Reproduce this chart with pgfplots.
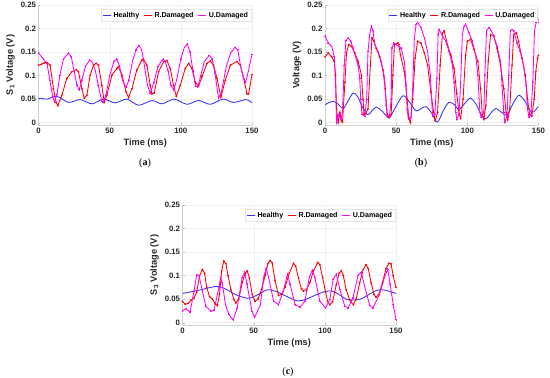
\documentclass[border=0pt]{standalone}
\usepackage{pgfplots}
\pgfplotsset{compat=1.18}
\usepackage{fontspec}
\setmainfont{Liberation Sans}
\newfontfamily\capfont{Liberation Serif}
\definecolor{hblue}{RGB}{50,50,255}
\definecolor{rred}{RGB}{255,0,0}
\definecolor{umag}{RGB}{255,0,255}
\definecolor{tickc}{RGB}{38,38,38}
\pgfplotsset{
 myax/.style={
  scale only axis, width=213.5pt, height=120pt,
  xmin=0, xmax=150, ymin=-0.005, ymax=0.25,
  xtick={0,50,100,150}, ytick={0,0.05,0.1,0.15,0.2,0.25},
  yticklabels={0,0.05,0.1,0.15,0.2,0.25},
  axis x line*=bottom, axis y line*=left,
  axis line style={gray!35, line width=0.4pt},
  grid=major, grid style={gray!12, line width=0.3pt},
  tick style={gray!50}, tick align=inside, major tick length=2pt,
  ticklabel style={font=\bfseries\fontsize{7.8}{8.5}\selectfont, text=tickc},
  yticklabel style={xshift=1pt},
  /pgf/number format/assume math mode=true,
  label style={font=\bfseries\fontsize{9.2}{10}\selectfont, text=tickc},
  ylabel style={yshift=-1pt},
  xlabel style={yshift=2pt},
  xlabel={Time (ms)},
  legend style={at={(0.995,0.965)}, anchor=north east, legend columns=3,
    font=\bfseries\fontsize{7.1}{7.5}\selectfont, draw=gray!20, inner sep=0.8pt,
    /tikz/every even column/.append style={column sep=2pt}},
  legend image code/.code={\draw[#1, line width=1.3pt, mark=none] (0pt,0pt) -- (8pt,0pt);},
 },
 hl/.style={hblue, line width=0.85pt, smooth},
 rd/.style={rred, line width=0.85pt, mark=*, mark size=0.4pt},
 ud/.style={umag, line width=0.85pt, mark=+, mark size=0.8pt},
}
\begin{document}
\begin{tikzpicture}
\path[use as bounding box] (0,0) rectangle (550pt,378pt);
% ---------------- (a)
\begin{axis}[myax, at={(38.5pt,253pt)}, anchor=south west, ylabel={S\textsubscript{1} Voltage (V)}]
\addplot[hl] coordinates {(0,0.051)(1.2,0.052)(6,0.05)(12.9,0.056)(21.1,0.043)(29.3,0.049)(37.5,0.040)(45.7,0.050)(53.9,0.042)(62.1,0.050)(70.3,0.037)(79.7,0.047)(86.7,0.040)(95.4,0.050)(104.3,0.039)(112.5,0.047)(120.7,0.039)(129.6,0.050)(137.1,0.043)(145.8,0.049)(150,0.042)};
\addplot[rd] coordinates {(0,0.122)(2,0.124)(4,0.127)(5.9,0.128)(8.2,0.122)(10.5,0.072)(12.4,0.043)(13.6,0.036)(16.4,0.058)(19.9,0.094)(23.4,0.108)(26.5,0.113)(28.1,0.108)(30.5,0.072)(32.1,0.052)(34.0,0.058)(36.3,0.101)(38.7,0.122)(40.5,0.126)(42.2,0.122)(44.5,0.079)(46.2,0.043)(48.0,0.058)(51.6,0.101)(55.1,0.115)(56.2,0.119)(58.6,0.101)(61.6,0.065)(63.3,0.053)(65.6,0.072)(69.1,0.112)(72.7,0.133)(73.8,0.135)(76.2,0.122)(78.5,0.079)(79.7,0.061)(81.3,0.063)(84.4,0.108)(87.9,0.130)(90.2,0.132)(92.6,0.115)(94.9,0.079)(96.8,0.056)(99.6,0.079)(103.1,0.115)(105.5,0.126)(107.8,0.115)(110.1,0.086)(112.5,0.078)(114.8,0.097)(118.4,0.126)(120.7,0.131)(123.0,0.122)(125.4,0.094)(128.2,0.054)(131.2,0.090)(134.8,0.122)(139.4,0.130)(141.8,0.122)(144.1,0.094)(146.5,0.061)(147.6,0.061)(150,0.102)};
\addplot[ud] coordinates {(0,0.148)(3.5,0.135)(6,0.125)(8,0.09)(10,0.055)(11.2,0.044)(13,0.06)(15,0.1)(17.5,0.135)(21,0.148)(23,0.14)(25,0.11)(27,0.08)(28.6,0.07)(30.5,0.09)(33,0.12)(36,0.133)(38,0.128)(40,0.11)(42,0.08)(44.5,0.045)(45.5,0.043)(47.5,0.06)(50,0.1)(53,0.13)(55,0.135)(57,0.12)(59,0.09)(61.6,0.075)(63.5,0.09)(66,0.13)(68.5,0.155)(70.5,0.164)(72.5,0.155)(74.5,0.12)(76.5,0.08)(78.5,0.063)(81,0.085)(84,0.12)(87.5,0.135)(89,0.13)(91,0.11)(93,0.08)(95,0.07)(97,0.09)(100,0.135)(102.5,0.16)(104.5,0.167)(106.5,0.15)(108.5,0.11)(110.5,0.078)(112,0.076)(114,0.1)(116.5,0.13)(120,0.143)(122,0.135)(124,0.105)(126.5,0.052)(128.5,0.065)(132,0.12)(135,0.148)(138,0.16)(140,0.155)(142,0.12)(144,0.095)(145.5,0.085)(147.5,0.11)(150,0.145)};
\legend{Healthy,R.Damaged,U.Damaged}
\end{axis}
% ---------------- (b)
\begin{axis}[myax, at={(325pt,253pt)}, anchor=south west, ylabel={Voltage (V)}]
\addplot[hl] coordinates {(0,0.038)(3,0.043)(6,0.045)(9,0.040)(12.8,0.030)(16,0.045)(19.8,0.063)(23,0.055)(26,0.035)(30,0.017)(33,0.025)(36,0.033)(40,0.025)(45,0.010)(49,0.030)(54.7,0.057)(59,0.045)(64,0.025)(67.5,0.030)(71,0.034)(75,0.020)(79,0.001)(83,0.025)(87,0.043)(91,0.038)(94,0.028)(98,0.040)(102,0.052)(106,0.040)(110,0.015)(113,0.008)(117,0.022)(120,0.030)(124,0.022)(128,0.017)(132,0.040)(136,0.058)(140,0.048)(145,0.022)(148,0.027)(150,0.035)};
\addplot[rd] coordinates {(0,0.140)(2.3,0.148)(4.7,0.140)(6.5,0.130)(7.4,0.101)(8.1,0.029)(9.3,0.0)(10.5,0.022)(11.6,0.004)(12.3,0.001)(14.0,0.086)(15.1,0.148)(16.7,0.166)(18.6,0.162)(20.9,0.148)(23.3,0.130)(25.6,0.101)(26.7,0.050)(27.4,0.018)(28.4,0.018)(30.2,0.029)(31.9,0.122)(33.0,0.180)(34.4,0.173)(36.0,0.158)(38.4,0.140)(40.7,0.112)(42.3,0.072)(43.7,0.018)(45.3,0.011)(46.5,0.018)(47.7,0.101)(48.8,0.166)(51.2,0.169)(51.9,0.166)(53.0,0.144)(55.8,0.108)(57.7,0.050)(58.8,0.011)(60.0,0.0)(61.6,0.050)(63.3,0.137)(65.1,0.173)(67.4,0.169)(69.8,0.148)(72.1,0.122)(74.4,0.065)(76.3,0.022)(77.4,0.004)(79.1,0.022)(80.9,0.122)(82.6,0.191)(83.7,0.195)(86.0,0.166)(88.4,0.144)(90.7,0.115)(92.6,0.061)(94.2,0.018)(95.3,0.009)(97.0,0.050)(98.8,0.144)(100.0,0.173)(102.3,0.177)(104.7,0.155)(107.4,0.130)(109.3,0.072)(110.5,0.018)(111.6,0.007)(113.0,0.036)(114.7,0.130)(116.3,0.187)(118.6,0.184)(120.9,0.158)(123.3,0.122)(125.6,0.072)(127.2,0.022)(128.4,0.006)(129.8,0.029)(131.4,0.122)(132.6,0.187)(134.4,0.191)(136.0,0.173)(138.4,0.137)(140.7,0.101)(142.3,0.050)(143.7,0.018)(145.3,0.014)(147.0,0.050)(148.1,0.108)(149.3,0.137)(150,0.143)};
\addplot[ud] coordinates {(0,0.184)(2.3,0.169)(4.7,0.162)(6.5,0.140)(7.4,0.086)(8.1,0.0)(9.8,0.018)(11.2,0.007)(12.3,0.022)(13.5,0.122)(14.7,0.174)(16.3,0.180)(18.1,0.173)(19.8,0.158)(22.1,0.133)(23.3,0.122)(24.4,0.094)(25.1,0.050)(26.0,0.018)(27.9,0.014)(29.3,0.050)(30.2,0.151)(31.4,0.187)(32.6,0.205)(33.7,0.195)(34.9,0.166)(37.2,0.151)(39.5,0.130)(41.9,0.094)(43.0,0.036)(43.7,0.014)(45.3,0.014)(46.5,0.050)(47.0,0.158)(48.4,0.169)(50.0,0.166)(51.6,0.162)(53.5,0.158)(55.8,0.130)(57.0,0.079)(57.7,0.029)(58.6,0.007)(60.5,0.011)(61.6,0.072)(62.8,0.180)(64.0,0.209)(65.1,0.213)(67.4,0.202)(69.8,0.180)(72.1,0.151)(74.0,0.101)(74.9,0.050)(75.6,0.014)(77.2,0.018)(78.6,0.094)(79.5,0.187)(80.2,0.198)(82.6,0.184)(84.9,0.173)(87.2,0.151)(89.5,0.122)(90.7,0.086)(91.9,0.022)(92.6,0.007)(94.2,0.018)(95.3,0.086)(96.5,0.187)(97.7,0.205)(98.8,0.209)(101.2,0.191)(103.5,0.173)(105.8,0.144)(107.4,0.101)(108.8,0.022)(109.8,0.011)(111.6,0.022)(112.3,0.101)(113.5,0.195)(115.1,0.202)(116.3,0.198)(118.6,0.184)(120.9,0.162)(123.3,0.130)(124.4,0.079)(125.6,0.022)(126.3,0.001)(127.9,0.014)(129.1,0.101)(130.2,0.195)(131.4,0.198)(132.6,0.195)(134.9,0.169)(137.2,0.151)(139.5,0.122)(141.4,0.079)(142.3,0.029)(143.3,0.011)(144.7,0.018)(146.0,0.086)(147.2,0.195)(148.4,0.213)(149.3,0.223)(150,0.213)};
\legend{Healthy,R.Damaged,U.Damaged}
\end{axis}
% ---------------- (c)
\begin{axis}[myax, at={(182.5pt,53pt)}, anchor=south west, ylabel={S\textsubscript{3} Voltage (V)}]
\addplot[hl] coordinates {(0,0.062)(10,0.068)(20,0.075)(25,0.077)(30,0.072)(37,0.060)(45,0.052)(50,0.055)(55,0.063)(60,0.070)(66,0.066)(73,0.056)(81,0.046)(87,0.050)(93,0.058)(100,0.066)(105,0.067)(110,0.060)(115,0.050)(120,0.048)(125,0.050)(130,0.058)(136,0.068)(140,0.070)(145,0.067)(150,0.062)};
\addplot[rd] coordinates {(0,0.045)(2,0.039)(4,0.041)(6,0.048)(8,0.052)(10,0.065)(12,0.1)(14,0.113)(15.5,0.105)(17,0.075)(19,0.055)(21,0.05)(23,0.04)(24.5,0.036)(26,0.06)(27.5,0.11)(29,0.131)(30.5,0.125)(32,0.1)(34,0.07)(36,0.05)(37.5,0.042)(39.5,0.05)(42,0.085)(44,0.105)(45.5,0.11)(47,0.095)(49,0.06)(51,0.045)(53,0.05)(55.5,0.07)(58,0.1)(60,0.125)(61.6,0.132)(63,0.127)(65,0.09)(67.4,0.058)(69.5,0.06)(72,0.075)(75,0.105)(78,0.126)(79.5,0.12)(81.5,0.095)(83.5,0.072)(85,0.067)(87,0.07)(89.5,0.085)(92,0.11)(95,0.128)(96.5,0.123)(98.5,0.095)(100.5,0.065)(102,0.045)(103.5,0.038)(105.5,0.045)(108,0.08)(110,0.105)(111.6,0.11)(113,0.1)(115,0.07)(117.5,0.048)(120,0.038)(122,0.05)(124.5,0.085)(127,0.113)(129,0.123)(130.5,0.115)(132.5,0.085)(134.5,0.06)(136,0.054)(138,0.06)(140.5,0.085)(143,0.115)(145,0.126)(146.5,0.125)(148,0.1)(150,0.075)};
\addplot[ud] coordinates {(0,0.025)(2.3,0.030)(5.3,0.022)(8.1,0.067)(10.0,0.102)(11.6,0.100)(14.0,0.067)(16.3,0.035)(20.2,0.024)(22.1,0.027)(25.6,0.074)(26.7,0.096)(27.9,0.085)(30.2,0.038)(32.6,0.017)(35.6,0.006)(38.4,0.031)(41.9,0.096)(43.7,0.107)(45.3,0.082)(48.8,0.024)(50.7,0.011)(54.7,0.038)(57.0,0.096)(58.8,0.116)(60.5,0.096)(64.0,0.046)(67.4,0.038)(70.9,0.067)(73.7,0.103)(75.6,0.082)(79.1,0.038)(82.6,0.033)(86.0,0.046)(89.1,0.096)(91.2,0.112)(93.0,0.096)(96.5,0.046)(100.5,0.031)(103.5,0.049)(105.8,0.092)(108.1,0.103)(110.5,0.071)(114.0,0.035)(116.3,0.031)(119.8,0.053)(123.3,0.100)(125.6,0.107)(127.9,0.078)(131.4,0.038)(133.7,0.031)(138.4,0.060)(141.9,0.096)(144.2,0.114)(145.8,0.082)(148.1,0.038)(150,0.006)};
\legend{Healthy,R.Damaged,U.Damaged}
\end{axis}
\node[font=\capfont\fontsize{10}{11}\selectfont] at (145pt,215pt) {(\textbf{a})};
\node[font=\capfont\fontsize{10}{11}\selectfont] at (421pt,215pt) {(\textbf{b})};
\node[font=\capfont\fontsize{10}{11}\selectfont] at (288pt,5.5pt) {(\textbf{c})};
\end{tikzpicture}
\end{document}
